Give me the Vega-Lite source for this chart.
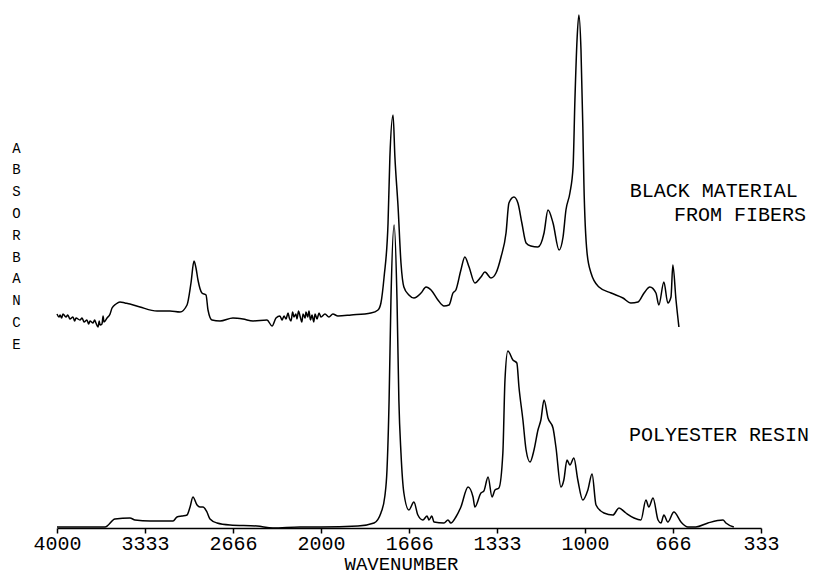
{
  "$schema": "https://vega.github.io/schema/vega-lite/v6.json",
  "width": 704,
  "height": 515,
  "autosize": {"type": "none"},
  "padding": {"left": 57, "top": 13, "right": 65, "bottom": 46},
  "background": "white",
  "config": {
    "view": {"stroke": null},
    "font": "Liberation Mono",
    "axis": {"grid": false, "labelFont": "Liberation Mono", "titleFont": "Liberation Mono", "titleFontWeight": "normal"}
  },
  "datasets": {
    "spectra": [
      {"series": "resin", "wavenumber": 4000, "absorbance": 1},
      {"series": "resin", "wavenumber": 3826, "absorbance": 1},
      {"series": "resin", "wavenumber": 3636, "absorbance": 1},
      {"series": "resin", "wavenumber": 3561, "absorbance": 9},
      {"series": "resin", "wavenumber": 3447, "absorbance": 10},
      {"series": "resin", "wavenumber": 3409, "absorbance": 8},
      {"series": "resin", "wavenumber": 3295, "absorbance": 7},
      {"series": "resin", "wavenumber": 3121, "absorbance": 7},
      {"series": "resin", "wavenumber": 3091, "absorbance": 11},
      {"series": "resin", "wavenumber": 3053, "absorbance": 12},
      {"series": "resin", "wavenumber": 3015, "absorbance": 13},
      {"series": "resin", "wavenumber": 2992, "absorbance": 21},
      {"series": "resin", "wavenumber": 2970, "absorbance": 31},
      {"series": "resin", "wavenumber": 2939, "absorbance": 23},
      {"series": "resin", "wavenumber": 2917, "absorbance": 21},
      {"series": "resin", "wavenumber": 2894, "absorbance": 21},
      {"series": "resin", "wavenumber": 2864, "absorbance": 16},
      {"series": "resin", "wavenumber": 2841, "absorbance": 9},
      {"series": "resin", "wavenumber": 2788, "absorbance": 5},
      {"series": "resin", "wavenumber": 2689, "absorbance": 3},
      {"series": "resin", "wavenumber": 2485, "absorbance": 2},
      {"series": "resin", "wavenumber": 2364, "absorbance": 0},
      {"series": "resin", "wavenumber": 2159, "absorbance": 1},
      {"series": "resin", "wavenumber": 2000, "absorbance": 1},
      {"series": "resin", "wavenumber": 1860, "absorbance": 2},
      {"series": "resin", "wavenumber": 1799, "absorbance": 5},
      {"series": "resin", "wavenumber": 1773, "absorbance": 15},
      {"series": "resin", "wavenumber": 1758, "absorbance": 32},
      {"series": "resin", "wavenumber": 1750, "absorbance": 58},
      {"series": "resin", "wavenumber": 1742, "absorbance": 128},
      {"series": "resin", "wavenumber": 1735, "absorbance": 228},
      {"series": "resin", "wavenumber": 1723, "absorbance": 303},
      {"series": "resin", "wavenumber": 1712, "absorbance": 228},
      {"series": "resin", "wavenumber": 1705, "absorbance": 128},
      {"series": "resin", "wavenumber": 1697, "absorbance": 75},
      {"series": "resin", "wavenumber": 1686, "absorbance": 35},
      {"series": "resin", "wavenumber": 1667, "absorbance": 18},
      {"series": "resin", "wavenumber": 1648, "absorbance": 26},
      {"series": "resin", "wavenumber": 1633, "absorbance": 13},
      {"series": "resin", "wavenumber": 1614, "absorbance": 8},
      {"series": "resin", "wavenumber": 1598, "absorbance": 12},
      {"series": "resin", "wavenumber": 1591, "absorbance": 8},
      {"series": "resin", "wavenumber": 1580, "absorbance": 12},
      {"series": "resin", "wavenumber": 1572, "absorbance": 6},
      {"series": "resin", "wavenumber": 1534, "absorbance": 5},
      {"series": "resin", "wavenumber": 1519, "absorbance": 8},
      {"series": "resin", "wavenumber": 1508, "absorbance": 5},
      {"series": "resin", "wavenumber": 1489, "absorbance": 11},
      {"series": "resin", "wavenumber": 1470, "absorbance": 21},
      {"series": "resin", "wavenumber": 1443, "absorbance": 41},
      {"series": "resin", "wavenumber": 1424, "absorbance": 31},
      {"series": "resin", "wavenumber": 1417, "absorbance": 21},
      {"series": "resin", "wavenumber": 1394, "absorbance": 35},
      {"series": "resin", "wavenumber": 1383, "absorbance": 37},
      {"series": "resin", "wavenumber": 1367, "absorbance": 51},
      {"series": "resin", "wavenumber": 1352, "absorbance": 31},
      {"series": "resin", "wavenumber": 1341, "absorbance": 38},
      {"series": "resin", "wavenumber": 1326, "absorbance": 40},
      {"series": "resin", "wavenumber": 1311, "absorbance": 75},
      {"series": "resin", "wavenumber": 1303, "absorbance": 148},
      {"series": "resin", "wavenumber": 1292, "absorbance": 177},
      {"series": "resin", "wavenumber": 1273, "absorbance": 168},
      {"series": "resin", "wavenumber": 1258, "absorbance": 165},
      {"series": "resin", "wavenumber": 1250, "absorbance": 141},
      {"series": "resin", "wavenumber": 1235, "absorbance": 108},
      {"series": "resin", "wavenumber": 1223, "absorbance": 78},
      {"series": "resin", "wavenumber": 1208, "absorbance": 66},
      {"series": "resin", "wavenumber": 1193, "absorbance": 78},
      {"series": "resin", "wavenumber": 1178, "absorbance": 98},
      {"series": "resin", "wavenumber": 1167, "absorbance": 108},
      {"series": "resin", "wavenumber": 1155, "absorbance": 128},
      {"series": "resin", "wavenumber": 1140, "absorbance": 110},
      {"series": "resin", "wavenumber": 1121, "absorbance": 100},
      {"series": "resin", "wavenumber": 1110, "absorbance": 81},
      {"series": "resin", "wavenumber": 1091, "absorbance": 41},
      {"series": "resin", "wavenumber": 1080, "absorbance": 48},
      {"series": "resin", "wavenumber": 1068, "absorbance": 68},
      {"series": "resin", "wavenumber": 1057, "absorbance": 63},
      {"series": "resin", "wavenumber": 1042, "absorbance": 70},
      {"series": "resin", "wavenumber": 1027, "absorbance": 48},
      {"series": "resin", "wavenumber": 1008, "absorbance": 28},
      {"series": "resin", "wavenumber": 989, "absorbance": 38},
      {"series": "resin", "wavenumber": 973, "absorbance": 54},
      {"series": "resin", "wavenumber": 958, "absorbance": 23},
      {"series": "resin", "wavenumber": 928, "absorbance": 15},
      {"series": "resin", "wavenumber": 894, "absorbance": 13},
      {"series": "resin", "wavenumber": 871, "absorbance": 20},
      {"series": "resin", "wavenumber": 845, "absorbance": 15},
      {"series": "resin", "wavenumber": 814, "absorbance": 10},
      {"series": "resin", "wavenumber": 788, "absorbance": 8},
      {"series": "resin", "wavenumber": 769, "absorbance": 28},
      {"series": "resin", "wavenumber": 758, "absorbance": 21},
      {"series": "resin", "wavenumber": 742, "absorbance": 30},
      {"series": "resin", "wavenumber": 723, "absorbance": 8},
      {"series": "resin", "wavenumber": 712, "absorbance": 5},
      {"series": "resin", "wavenumber": 701, "absorbance": 13},
      {"series": "resin", "wavenumber": 686, "absorbance": 6},
      {"series": "resin", "wavenumber": 663, "absorbance": 16},
      {"series": "resin", "wavenumber": 636, "absorbance": 6},
      {"series": "resin", "wavenumber": 610, "absorbance": 1},
      {"series": "resin", "wavenumber": 580, "absorbance": 1},
      {"series": "resin", "wavenumber": 534, "absorbance": 5},
      {"series": "resin", "wavenumber": 477, "absorbance": 8},
      {"series": "resin", "wavenumber": 466, "absorbance": 5},
      {"series": "resin", "wavenumber": 436, "absorbance": 1},

      {"series": "black", "wavenumber": 4000, "absorbance": 214},
      {"series": "black", "wavenumber": 3985, "absorbance": 211},
      {"series": "black", "wavenumber": 3977, "absorbance": 213},
      {"series": "black", "wavenumber": 3965, "absorbance": 210},
      {"series": "black", "wavenumber": 3955, "absorbance": 214},
      {"series": "black", "wavenumber": 3932, "absorbance": 211},
      {"series": "black", "wavenumber": 3918, "absorbance": 213},
      {"series": "black", "wavenumber": 3902, "absorbance": 209},
      {"series": "black", "wavenumber": 3879, "absorbance": 211},
      {"series": "black", "wavenumber": 3866, "absorbance": 207},
      {"series": "black", "wavenumber": 3856, "absorbance": 210},
      {"series": "black", "wavenumber": 3826, "absorbance": 208},
      {"series": "black", "wavenumber": 3810, "absorbance": 210},
      {"series": "black", "wavenumber": 3795, "absorbance": 206},
      {"series": "black", "wavenumber": 3773, "absorbance": 208},
      {"series": "black", "wavenumber": 3760, "absorbance": 204},
      {"series": "black", "wavenumber": 3750, "absorbance": 207},
      {"series": "black", "wavenumber": 3727, "absorbance": 205},
      {"series": "black", "wavenumber": 3715, "absorbance": 208},
      {"series": "black", "wavenumber": 3705, "absorbance": 205},
      {"series": "black", "wavenumber": 3689, "absorbance": 201},
      {"series": "black", "wavenumber": 3680, "absorbance": 207},
      {"series": "black", "wavenumber": 3674, "absorbance": 203},
      {"series": "black", "wavenumber": 3659, "absorbance": 204},
      {"series": "black", "wavenumber": 3651, "absorbance": 212},
      {"series": "black", "wavenumber": 3644, "absorbance": 206},
      {"series": "black", "wavenumber": 3621, "absorbance": 210},
      {"series": "black", "wavenumber": 3598, "absorbance": 214},
      {"series": "black", "wavenumber": 3583, "absorbance": 220},
      {"series": "black", "wavenumber": 3553, "absorbance": 224},
      {"series": "black", "wavenumber": 3523, "absorbance": 226},
      {"series": "black", "wavenumber": 3485, "absorbance": 225},
      {"series": "black", "wavenumber": 3447, "absorbance": 224},
      {"series": "black", "wavenumber": 3371, "absorbance": 221},
      {"series": "black", "wavenumber": 3242, "absorbance": 217},
      {"series": "black", "wavenumber": 3144, "absorbance": 217},
      {"series": "black", "wavenumber": 3068, "absorbance": 216},
      {"series": "black", "wavenumber": 3015, "absorbance": 223},
      {"series": "black", "wavenumber": 2985, "absorbance": 245},
      {"series": "black", "wavenumber": 2962, "absorbance": 267},
      {"series": "black", "wavenumber": 2947, "absorbance": 260},
      {"series": "black", "wavenumber": 2932, "absorbance": 248},
      {"series": "black", "wavenumber": 2902, "absorbance": 235},
      {"series": "black", "wavenumber": 2871, "absorbance": 233},
      {"series": "black", "wavenumber": 2856, "absorbance": 218},
      {"series": "black", "wavenumber": 2826, "absorbance": 208},
      {"series": "black", "wavenumber": 2765, "absorbance": 207},
      {"series": "black", "wavenumber": 2667, "absorbance": 210},
      {"series": "black", "wavenumber": 2591, "absorbance": 209},
      {"series": "black", "wavenumber": 2515, "absorbance": 207},
      {"series": "black", "wavenumber": 2409, "absorbance": 208},
      {"series": "black", "wavenumber": 2371, "absorbance": 202},
      {"series": "black", "wavenumber": 2341, "absorbance": 210},
      {"series": "black", "wavenumber": 2311, "absorbance": 212},
      {"series": "black", "wavenumber": 2295, "absorbance": 208},
      {"series": "black", "wavenumber": 2280, "absorbance": 212},
      {"series": "black", "wavenumber": 2265, "absorbance": 209},
      {"series": "black", "wavenumber": 2250, "absorbance": 215},
      {"series": "black", "wavenumber": 2240, "absorbance": 210},
      {"series": "black", "wavenumber": 2227, "absorbance": 207},
      {"series": "black", "wavenumber": 2215, "absorbance": 216},
      {"series": "black", "wavenumber": 2205, "absorbance": 211},
      {"series": "black", "wavenumber": 2190, "absorbance": 214},
      {"series": "black", "wavenumber": 2182, "absorbance": 209},
      {"series": "black", "wavenumber": 2170, "absorbance": 217},
      {"series": "black", "wavenumber": 2159, "absorbance": 212},
      {"series": "black", "wavenumber": 2145, "absorbance": 206},
      {"series": "black", "wavenumber": 2136, "absorbance": 214},
      {"series": "black", "wavenumber": 2120, "absorbance": 210},
      {"series": "black", "wavenumber": 2114, "absorbance": 216},
      {"series": "black", "wavenumber": 2100, "absorbance": 211},
      {"series": "black", "wavenumber": 2091, "absorbance": 217},
      {"series": "black", "wavenumber": 2080, "absorbance": 208},
      {"series": "black", "wavenumber": 2068, "absorbance": 213},
      {"series": "black", "wavenumber": 2055, "absorbance": 206},
      {"series": "black", "wavenumber": 2045, "absorbance": 214},
      {"series": "black", "wavenumber": 2030, "absorbance": 209},
      {"series": "black", "wavenumber": 2015, "absorbance": 215},
      {"series": "black", "wavenumber": 2000, "absorbance": 211},
      {"series": "black", "wavenumber": 1985, "absorbance": 214},
      {"series": "black", "wavenumber": 1970, "absorbance": 211},
      {"series": "black", "wavenumber": 1955, "absorbance": 214},
      {"series": "black", "wavenumber": 1936, "absorbance": 212},
      {"series": "black", "wavenumber": 1886, "absorbance": 213},
      {"series": "black", "wavenumber": 1811, "absorbance": 215},
      {"series": "black", "wavenumber": 1784, "absorbance": 218},
      {"series": "black", "wavenumber": 1773, "absorbance": 225},
      {"series": "black", "wavenumber": 1761, "absorbance": 251},
      {"series": "black", "wavenumber": 1746, "absorbance": 305},
      {"series": "black", "wavenumber": 1739, "absorbance": 371},
      {"series": "black", "wavenumber": 1727, "absorbance": 413},
      {"series": "black", "wavenumber": 1720, "absorbance": 371},
      {"series": "black", "wavenumber": 1708, "absorbance": 321},
      {"series": "black", "wavenumber": 1697, "absorbance": 265},
      {"series": "black", "wavenumber": 1686, "absorbance": 241},
      {"series": "black", "wavenumber": 1667, "absorbance": 233},
      {"series": "black", "wavenumber": 1648, "absorbance": 230},
      {"series": "black", "wavenumber": 1621, "absorbance": 235},
      {"series": "black", "wavenumber": 1602, "absorbance": 241},
      {"series": "black", "wavenumber": 1583, "absorbance": 238},
      {"series": "black", "wavenumber": 1557, "absorbance": 228},
      {"series": "black", "wavenumber": 1534, "absorbance": 222},
      {"series": "black", "wavenumber": 1515, "absorbance": 223},
      {"series": "black", "wavenumber": 1500, "absorbance": 235},
      {"series": "black", "wavenumber": 1489, "absorbance": 238},
      {"series": "black", "wavenumber": 1470, "absorbance": 258},
      {"series": "black", "wavenumber": 1455, "absorbance": 271},
      {"series": "black", "wavenumber": 1439, "absorbance": 261},
      {"series": "black", "wavenumber": 1417, "absorbance": 245},
      {"series": "black", "wavenumber": 1394, "absorbance": 251},
      {"series": "black", "wavenumber": 1379, "absorbance": 256},
      {"series": "black", "wavenumber": 1356, "absorbance": 250},
      {"series": "black", "wavenumber": 1337, "absorbance": 255},
      {"series": "black", "wavenumber": 1318, "absorbance": 271},
      {"series": "black", "wavenumber": 1299, "absorbance": 295},
      {"series": "black", "wavenumber": 1288, "absorbance": 325},
      {"series": "black", "wavenumber": 1269, "absorbance": 331},
      {"series": "black", "wavenumber": 1254, "absorbance": 325},
      {"series": "black", "wavenumber": 1239, "absorbance": 305},
      {"series": "black", "wavenumber": 1223, "absorbance": 285},
      {"series": "black", "wavenumber": 1205, "absorbance": 282},
      {"series": "black", "wavenumber": 1178, "absorbance": 281},
      {"series": "black", "wavenumber": 1155, "absorbance": 295},
      {"series": "black", "wavenumber": 1140, "absorbance": 318},
      {"series": "black", "wavenumber": 1121, "absorbance": 305},
      {"series": "black", "wavenumber": 1098, "absorbance": 278},
      {"series": "black", "wavenumber": 1083, "absorbance": 291},
      {"series": "black", "wavenumber": 1072, "absorbance": 318},
      {"series": "black", "wavenumber": 1057, "absorbance": 335},
      {"series": "black", "wavenumber": 1045, "absorbance": 361},
      {"series": "black", "wavenumber": 1038, "absorbance": 428},
      {"series": "black", "wavenumber": 1030, "absorbance": 488},
      {"series": "black", "wavenumber": 1023, "absorbance": 513},
      {"series": "black", "wavenumber": 1015, "absorbance": 478},
      {"series": "black", "wavenumber": 1008, "absorbance": 401},
      {"series": "black", "wavenumber": 1004, "absorbance": 345},
      {"series": "black", "wavenumber": 992, "absorbance": 275},
      {"series": "black", "wavenumber": 977, "absorbance": 255},
      {"series": "black", "wavenumber": 947, "absorbance": 241},
      {"series": "black", "wavenumber": 901, "absorbance": 235},
      {"series": "black", "wavenumber": 856, "absorbance": 230},
      {"series": "black", "wavenumber": 826, "absorbance": 225},
      {"series": "black", "wavenumber": 799, "absorbance": 226},
      {"series": "black", "wavenumber": 776, "absorbance": 235},
      {"series": "black", "wavenumber": 754, "absorbance": 241},
      {"series": "black", "wavenumber": 731, "absorbance": 235},
      {"series": "black", "wavenumber": 720, "absorbance": 223},
      {"series": "black", "wavenumber": 701, "absorbance": 246},
      {"series": "black", "wavenumber": 686, "absorbance": 225},
      {"series": "black", "wavenumber": 674, "absorbance": 231},
      {"series": "black", "wavenumber": 667, "absorbance": 263},
      {"series": "black", "wavenumber": 655, "absorbance": 228},
      {"series": "black", "wavenumber": 644, "absorbance": 201}
    ],
    "labels": [
      {"label": "BLACK MATERIAL", "wavenumber": 830, "absorbance": 331},
      {"label": "FROM FIBERS", "wavenumber": 663, "absorbance": 307},
      {"label": "POLYESTER RESIN", "wavenumber": 833, "absorbance": 87}
    ]
  },
  "layer": [
    {
      "data": {"name": "spectra"},
      "mark": {"type": "line", "strokeWidth": 1.5, "color": "black", "strokeJoin": "round", "interpolate": "monotone"},
      "encoding": {
        "x": {
          "field": "wavenumber",
          "type": "quantitative",
          "scale": {"domain": [4000, 2000, 333], "range": [0, 264, 704], "nice": false, "zero": false},
          "axis": {
            "values": [4000, 3333, 2666, 2000, 1666, 1333, 1000, 666, 333],
            "format": "d",
            "title": "WAVENUMBER",
            "titleFontSize": 19,
            "titleColor": "black",
            "titleX": 344,
            "titlePadding": 1,
            "labelFontSize": 20,
            "labelColor": "black",
            "labelPadding": 0,
            "labelFlush": false,
            "labelOverlap": false,
            "domainColor": "black",
            "domainWidth": 1.5,
            "tickColor": "black",
            "tickWidth": 1.5,
            "tickSize": 5
          }
        },
        "y": {
          "field": "absorbance",
          "type": "quantitative",
          "scale": {"domain": [0, 515], "nice": false},
          "axis": {
            "domain": false,
            "ticks": false,
            "labels": false,
            "title": ["A", "B", "S", "O", "R", "B", "A", "N", "C", "E"],
            "titleAngle": 0,
            "titleX": -41,
            "titleY": 128,
            "titleAlign": "center",
            "titleBaseline": "top",
            "titleFontSize": 14,
            "titleLineHeight": 21.8,
            "titleColor": "black"
          }
        },
        "detail": {"field": "series", "type": "nominal"}
      }
    },
    {
      "data": {"name": "labels"},
      "mark": {"type": "text", "align": "left", "baseline": "alphabetic", "fontSize": 20, "font": "Liberation Mono", "color": "black"},
      "encoding": {
        "x": {"field": "wavenumber", "type": "quantitative"},
        "y": {"field": "absorbance", "type": "quantitative"},
        "text": {"field": "label"}
      }
    }
  ]
}
